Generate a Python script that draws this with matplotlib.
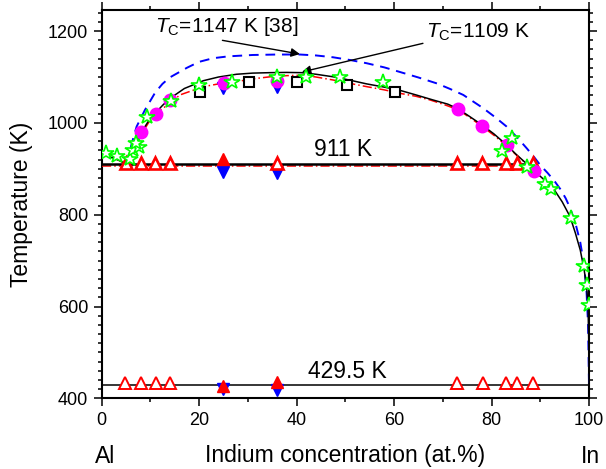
import matplotlib
matplotlib.use("Agg")
import matplotlib.pyplot as plt
from matplotlib.ticker import MultipleLocator

plt.rcParams['font.family'] = ['Liberation Sans', 'DejaVu Sans']
plt.rcParams['mathtext.fontset'] = 'custom'
plt.rcParams['mathtext.rm'] = 'Liberation Sans'
plt.rcParams['mathtext.it'] = 'Liberation Sans:italic'

# ---- data ----
black_x = [0, 2.5, 5, 6.2, 7, 8.2, 10, 11.1, 12.5, 14, 17, 20.9, 24, 27.7, 31, 34.6, 38, 41, 44,
           47.5, 51, 54.4, 58, 61.2, 64.5, 68, 71, 73.1, 75.5, 78, 80.5, 83.1, 85, 87.2, 88.6,
           90.7, 92.7, 94.5, 96.1, 97.2, 98.2, 99, 99.5, 99.8, 99.95, 100]
black_T = [933, 923, 912, 939, 958, 980, 1010, 1022, 1038, 1053, 1075, 1092, 1100, 1106, 1108.5,
           1109.5, 1110, 1109.5, 1106, 1100.5, 1093, 1085, 1078, 1071, 1061, 1050, 1041, 1031,
           1014, 996, 976, 952, 932, 911, 897, 877, 857, 828, 796, 760, 723, 680, 643, 602, 520, 400]

blue_x = [5, 5.6, 6.2, 7.2, 8.9, 11, 12.5, 14, 17.5, 20, 22.9, 26, 31, 36, 40.7, 44, 47.5, 51,
          54.4, 58, 61.2, 65, 68.8, 71.5, 74.2, 78.3, 80.8, 83.1, 85.2, 87.2, 88.7, 90, 91.5, 93,
          94.1, 95.2, 96.1, 97.2, 98.2, 99.0, 99.5, 99.8, 100]
blue_T = [912, 930, 955, 992, 1028, 1066, 1085, 1099, 1120, 1133, 1141, 1145, 1148, 1149, 1149,
          1147, 1143, 1137, 1130, 1121, 1111, 1099, 1086, 1074, 1061, 1032, 1012, 992, 969, 945,
          926, 908, 891, 872, 856, 836, 815, 782, 740, 690, 630, 560, 430]

red_x = [0, 2.5, 5, 6.5, 8.2, 9.95, 12, 14, 16.1, 20.9, 24, 27.7, 31, 34.6, 38, 41.4, 44, 47.5,
         51, 54.4, 58, 61.2, 64.5, 67.4, 70, 73.1, 75.5, 78, 80.5, 83.1, 85.3, 87.5]
red_T = [935, 925, 910, 945, 975, 1006, 1027, 1043, 1061, 1079, 1085, 1090, 1096, 1100.5, 1103,
         1104, 1100, 1093.5, 1086, 1079, 1072, 1064.5, 1058, 1050, 1041, 1029, 1012, 993, 973,
         950, 928, 908]

monotectic_T = 911
monotectic_end = 87.2
red_mono_T = 907
eutectic_T = 429.5

star_x = [0.9, 3.2, 5.9, 6.4, 7.6, 7.0, 9.4, 14.2, 19.9, 26.7, 35.9, 41.9, 49, 57.8, 82.2, 84.1,
          87.2, 90.9, 92.3, 96.4, 99.0, 99.5, 99.9]
star_T = [935, 928, 922, 940, 948, 957, 1012, 1047, 1082, 1090, 1101, 1101, 1101, 1090, 938, 968,
          903, 868, 855, 792, 688, 646, 603]

circ_x = [8.2, 11.1, 14.05, 25.1, 36.0, 73.2, 78.1, 83.1, 88.7]
circ_T = [980, 1020, 1051, 1088, 1091, 1031, 993, 951, 896]

sq_x = [20.2, 30.2, 40.1, 50.3, 60.2]
sq_T = [1068, 1089, 1090, 1082, 1067]

tri_open_x_top = [5, 8, 11, 14, 36, 73, 78, 83, 85.3, 88.5]
tri_open_T_top = [912, 912, 912, 912, 912, 912, 912, 912, 912, 912]
tri_open_x_bot = [4.8, 8.1, 11.2, 14.1, 73, 78.2, 83, 85.2, 88.5]
tri_open_T_bot = [432.5, 432.5, 432.5, 432.5, 432.5, 432.5, 432.5, 432.5, 432.5]

tri_fill_x = [25, 25, 36]
tri_fill_T = [921, 426, 435]

down_x = [25, 36, 25, 36, 25, 36]
down_T = [1076, 1079, 894, 891, 421, 418]

# ---- figure ----
fig = plt.figure(figsize=(6.06, 4.69), dpi=100)
ax = fig.add_axes([0.1675, 0.1507, 0.8045, 0.827])

ax.plot(blue_x, blue_T, color='#0000ff', lw=1.4, ls=(0, (5, 3.5)), zorder=3)
ax.plot(red_x, red_T, color='#ff0000', lw=1.1, ls=(0, (6, 2, 1, 2)), zorder=3)
ax.plot([0, monotectic_end], [red_mono_T, red_mono_T], color='#ff0000', lw=1.1,
        ls=(0, (6, 2, 1, 2)), zorder=3)
ax.plot(black_x, black_T, color='black', lw=1.1, zorder=4)
ax.plot([0, monotectic_end], [monotectic_T, monotectic_T], color='black', lw=1.8, zorder=4)
ax.plot([0, 100], [eutectic_T, eutectic_T], color='black', lw=1.1, zorder=4)

ax.plot(down_x, down_T, ls='none', marker='v', ms=9, color='#0000ff', mec='#0000ff', zorder=5)
ax.plot(tri_fill_x, tri_fill_T, ls='none', marker='^', ms=9, color='#ff0000', mec='#ff0000', zorder=6)
ax.plot(tri_open_x_top, tri_open_T_top, ls='none', marker='^', ms=9, mfc='white',
        mec='#ff0000', mew=1.9, zorder=6)
ax.plot(tri_open_x_bot, tri_open_T_bot, ls='none', marker='^', ms=9, mfc='white',
        mec='#ff0000', mew=1.4, zorder=6)
ax.plot(sq_x, sq_T, ls='none', marker='s', ms=6.5, mfc='white', mec='black', mew=1.5, zorder=6)
ax.plot(circ_x, circ_T, ls='none', marker='o', ms=9, color='#ff00ff', mec='#ff00ff', zorder=7)
ax.plot(star_x, star_T, ls='none', marker='*', ms=11.5, mfc='white', mec='#00ff00', mew=1.2, zorder=8)

ax.set_xlim(0, 100)
ax.set_ylim(400, 1245)
ax.xaxis.set_major_locator(MultipleLocator(20))
ax.xaxis.set_minor_locator(MultipleLocator(10))
ax.yaxis.set_major_locator(MultipleLocator(200))
ax.yaxis.set_minor_locator(MultipleLocator(20))
ax.tick_params(which='both', direction='out', top=True, right=True, labelsize=13, width=1.1)
ax.tick_params(which='major', length=6)
ax.tick_params(which='minor', length=3)
for s in ax.spines.values():
    s.set_linewidth(1.5)

ax.set_ylabel('Temperature (K)', fontsize=16.5, labelpad=11)
ax.set_xlabel('Indium concentration (at.%)', fontsize=16.5, labelpad=11)
ax.text(0.008, -0.15, 'Al', transform=ax.transAxes, fontsize=16.5, ha='center', va='center')
ax.text(1.002, -0.15, 'In', transform=ax.transAxes, fontsize=16.5, ha='center', va='center')

ax.text(49.5, 943, '911 K', fontsize=16.5, ha='center', va='center')
ax.text(50.5, 458, '429.5 K', fontsize=16.5, ha='center', va='center')

ax.annotate(r'$T_\mathrm{C}$=1147 K [38]', xy=(40.7, 1150), xytext=(11, 1211),
            fontsize=15, ha='left', va='center',
            arrowprops=dict(arrowstyle='-|>', color='black', lw=1.0, mutation_scale=13,
                            shrinkA=0, shrinkB=0, relpos=(0.36, 0.0)))
ax.annotate(r'$T_\mathrm{C}$=1109 K', xy=(41.1, 1111), xytext=(66.5, 1198),
            fontsize=15, ha='left', va='center',
            arrowprops=dict(arrowstyle='-|>', color='black', lw=1.0, mutation_scale=13,
                            shrinkA=0, shrinkB=0, relpos=(0.0, 0.0)))

fig.savefig('out.png', dpi=100)
